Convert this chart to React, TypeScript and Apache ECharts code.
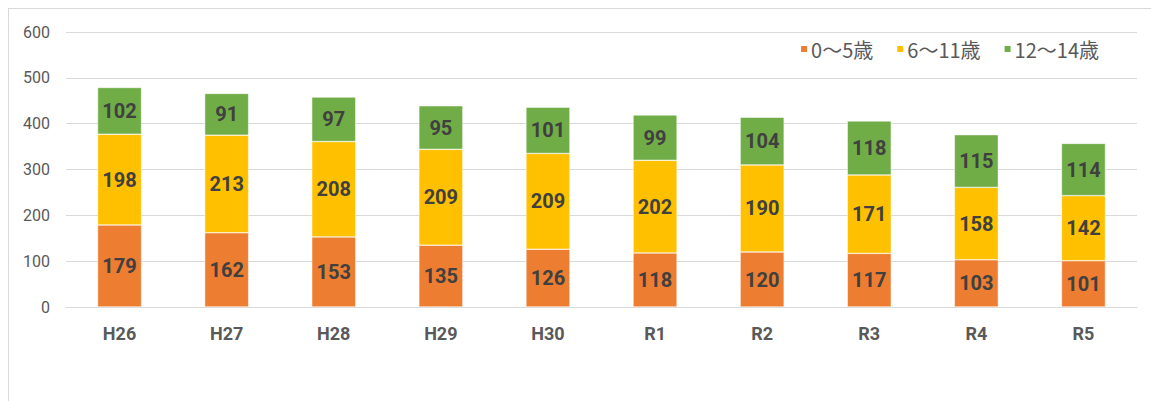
import React, { useEffect, useRef } from "react";
import * as echarts from "echarts";

const categories = ["H26", "H27", "H28", "H29", "H30", "R1", "R2", "R3", "R4", "R5"];
const age0to5 = [179, 162, 153, 135, 126, 118, 120, 117, 103, 101];
const age6to11 = [198, 213, 208, 209, 209, 202, 190, 171, 158, 142];
const age12to14 = [102, 91, 97, 95, 101, 99, 104, 118, 115, 114];
const seriesNames = ["0～5歳", "6～11歳", "12～14歳"];
const colors = ["#ED7D31", "#FFC000", "#70AD47"];

export default function App() {
  const ref = useRef<HTMLDivElement>(null);
  useEffect(() => {
    document.body.style.overflow = "hidden";
    const chart = echarts.init(ref.current!, null, { renderer: "svg" });
    const datasets = [age0to5, age6to11, age12to14];
    const font = "'Noto Sans CJK JP', 'Noto Sans', sans-serif";
    chart.setOption({
      animation: false,
      textStyle: { fontFamily: font },
      legend: {
        right: 52,
        top: 25,
        itemWidth: 8,
        itemHeight: 8,
        itemGap: 22,
        icon: "rect",
        textStyle: { fontSize: 20, color: "#595959", fontFamily: font, padding: [0, 0, 0, -2] },
        data: seriesNames,
      },
      grid: { left: 57, right: 19, top: 23, height: 275 },
      xAxis: {
        type: "category",
        data: categories,
        axisLine: { lineStyle: { color: "#d9d9d9", width: 1 } },
        axisTick: { show: false },
        axisLabel: { color: "#595959", fontSize: 18, fontWeight: "bold", margin: 17, fontFamily: "Roboto, sans-serif" },
      },
      yAxis: {
        type: "value",
        min: 0,
        max: 600,
        interval: 100,
        axisLine: { show: false },
        axisTick: { show: false },
        splitLine: { lineStyle: { color: "#d9d9d9", width: 1 } },
        axisLabel: { color: "#595959", fontSize: 16, margin: 16, fontFamily: "Roboto, sans-serif" },
      },
      series: datasets.map((d, i) => ({
        name: seriesNames[i],
        type: "bar",
        stack: "total",
        data: d,
        barWidth: 44,
        itemStyle: { color: colors[i], borderColor: "#fff", borderWidth: 0.5 },
        label: {
          show: true,
          position: "inside",
          color: "#404040",
          fontSize: 20,
          fontWeight: "bold",
          fontFamily: "Roboto, sans-serif",
        },
      })),
    });
    return () => chart.dispose();
  }, []);
  return (
    <div style={{ width: 1149, height: 393, border: "1px solid #d9d9d9", borderBottom: "none", boxSizing: "border-box" }}>
      <div ref={ref} style={{ width: 1147, height: 392 }} />
    </div>
  );
}
